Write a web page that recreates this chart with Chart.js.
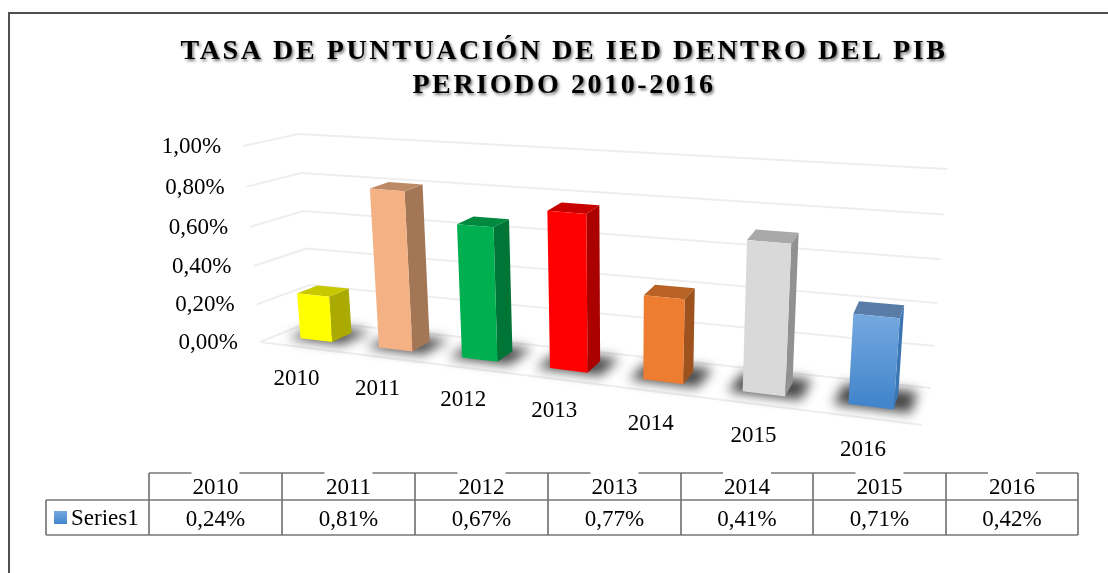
<!DOCTYPE html>
<html><head><meta charset="utf-8">
<style>html,body{margin:0;padding:0;background:#fff}canvas{display:block}</style>
<script src="https://cdn.jsdelivr.net/npm/chart.js@4"></script>
</head><body>
<div style="width:1108px;height:573px"><canvas id="c"></canvas></div>
<script>
const categories = ['2010','2011','2012','2013','2014','2015','2016'];
const seriesName = 'Series1';
const seriesValues = [0.24,0.81,0.67,0.77,0.41,0.71,0.42];
const titleLines = ['TASA DE PUNTUACIÓN DE IED DENTRO DEL PIB','PERIODO 2010-2016'];
const frontColors = ['#FFFF00','#F4B183','#00B050','#FF0000','#ED7D31','#D9D9D9','#5B9BD5'];
const sideColors  = ['#AAAA00','#A37655','#007535','#AA0000','#9E531F','#919191','#3A76B3'];
const topColors   = ['#C8C800','#BC8A66','#008A3F','#C80000','#B86226','#A9A9A9','#5A7DA8'];

const FONT = '"Liberation Serif","Times New Roman",serif';
const pct = v => v.toFixed(2).replace('.',',') + '%';

// Floor plane of the perspective box: u runs along the categories, w from front to back.
const FL=[260,342], FR=[922,425], BR=[931,388], BL=[312,321];
const ALPHA=0.81, VPX=620, VK=1/4200, DEPTH0=0.32, DEPTH1=0.72, BAR_SHIFT=0.003;
function warp(u){ return ALPHA*u/(1+(ALPHA-1)*u); }
function lerp(a,b,t){ return a+(b-a)*t; }
function project(u,w,v){
  const t=warp(u);
  const fx=lerp(FL[0],FR[0],t), fy=lerp(FL[1],FR[1],t);
  const bx=lerp(BL[0],BR[0],t), by=lerp(BL[1],BR[1],t);
  const x=lerp(fx,bx,w), y=lerp(fy,by,w);
  const s=lerp(lerp(196,228,t),lerp(187,219,t),w);
  const h=v*(0.95+0.05*v)*s;
  return [x+(x-VPX)*VK*h, y-h];
}
function poly(ctx,pts,fill){
  ctx.beginPath();
  pts.forEach((p,i)=> i?ctx.lineTo(p[0],p[1]):ctx.moveTo(p[0],p[1]));
  ctx.closePath(); ctx.fillStyle=fill; ctx.fill();
}

const perspective = {
  id:'perspective',
  beforeDraw(chart){
    const ctx=chart.ctx;
    ctx.save();
    ctx.fillStyle='#fff'; ctx.fillRect(0,0,chart.width,chart.height);
    // frame
    ctx.strokeStyle='#505050';
    ctx.lineWidth=2;
    ctx.beginPath(); ctx.moveTo(9,573); ctx.lineTo(9,12); ctx.stroke();
    ctx.lineWidth=1.8;
    ctx.beginPath(); ctx.moveTo(8,13); ctx.lineTo(1108,13); ctx.stroke();
    // native title picks these up
    ctx.letterSpacing='2.6px';
    ctx.shadowColor='rgba(0,0,0,0.55)'; ctx.shadowBlur=3; ctx.shadowOffsetX=1.5; ctx.shadowOffsetY=2;
  },
  beforeDatasetsDraw(chart){ chart.ctx.restore(); },
  beforeDatasetDraw(chart,args){
    const ctx=chart.ctx, a=chart.chartArea, ys=chart.scales.y;
    const H=a.bottom-a.top, W=a.right-a.left;
    const ax=v=>(ys.getPixelForValue(0)-ys.getPixelForValue(v))/H;
    // gridlines
    ctx.save();
    ctx.strokeStyle='#eeeeee'; ctx.lineWidth=2; ctx.lineJoin='round';
    ys.ticks.forEach(tk=>{
      const v=ax(tk.value);
      const p0=project(0,0,v), p1=project(0,1,v), p2=project(1,1,v);
      ctx.beginPath(); ctx.moveTo(p0[0],p0[1]); ctx.lineTo(p1[0],p1[1]); ctx.lineTo(p2[0],p2[1]); ctx.stroke();
    });
    const f0=project(0,0,0), f1=project(1,0,0);
    ctx.beginPath(); ctx.moveTo(f0[0],f0[1]); ctx.lineTo(f1[0],f1[1]); ctx.stroke();
    ctx.restore();

    const els=args.meta.data;
    const geo=els.map(el=>{
      const uc=(el.x-a.left)/W+BAR_SHIFT, du=el.width/2/W;
      return {uc,u0:uc-du,u1:uc+du,du,v:(el.base-el.y)/H};
    });
    // contact shadows
    ctx.save();
    ctx.filter='blur(6px)';
    geo.forEach(g=>{
      poly(ctx,[project(g.u0-g.du*0.65,DEPTH0-0.05,0),project(g.u1+g.du*0.75,DEPTH0-0.05,0),
                project(g.u1+g.du*0.8,DEPTH1+0.14,0),project(g.u0-g.du*0.55,DEPTH1+0.14,0)],'rgba(50,50,50,0.9)');
    });
    ctx.restore();
    // boxes
    geo.forEach((g,i)=>{
      const fbl=project(g.u0,DEPTH0,0), fbr=project(g.u1,DEPTH0,0), bbr=project(g.u1,DEPTH1,0);
      const ftl=project(g.u0,DEPTH0,g.v), ftr=project(g.u1,DEPTH0,g.v);
      const btr=project(g.u1,DEPTH1,g.v), btl=project(g.u0,DEPTH1,g.v);
      let front=frontColors[i];
      if(i===categories.length-1){
        const gr=ctx.createLinearGradient(0,ftl[1],0,fbl[1]);
        gr.addColorStop(0,'#75A9E0'); gr.addColorStop(1,'#4285CB'); front=gr;
      }
      poly(ctx,[fbr,bbr,btr,ftr],sideColors[i]);
      poly(ctx,[ftl,ftr,btr,btl],topColors[i]);
      poly(ctx,[fbl,fbr,ftr,ftl],front);
    });
    // axis labels
    ctx.save();
    ctx.fillStyle='#000'; ctx.font='23px '+FONT; ctx.textBaseline='middle';
    ctx.textAlign='right';
    ys.ticks.forEach(tk=>{
      const p=project(0,0,ax(tk.value));
      ctx.fillText(pct(tk.value),p[0]-22,p[1]+1);
    });
    ctx.textAlign='center';
    geo.forEach((g,i)=>{
      const p=project(g.uc,0,0);
      ctx.fillText(categories[i],p[0]-4,p[1]+32);
    });
    ctx.restore();
    return false;
  },
  afterDraw(chart){
    const ctx=chart.ctx;
    const xs=[149,282,415,548,681,813,946,1078], top=473, mid=500, bot=535, lft=46;
    ctx.save();
    ctx.strokeStyle='#777777'; ctx.lineWidth=1.7;
    ctx.beginPath();
    ctx.moveTo(xs[0],top); ctx.lineTo(xs[7],top);
    ctx.moveTo(lft,mid); ctx.lineTo(xs[7],mid);
    ctx.moveTo(lft,bot); ctx.lineTo(xs[7],bot);
    ctx.moveTo(lft,mid); ctx.lineTo(lft,bot);
    xs.forEach(x=>{ctx.moveTo(x,top); ctx.lineTo(x,bot);});
    ctx.stroke();
    ctx.font='23px '+FONT; ctx.textBaseline='middle'; ctx.textAlign='center';
    categories.forEach((c,i)=>{
      const cx=(xs[i]+xs[i+1])/2;
      ctx.fillStyle='#fff'; ctx.fillRect(cx-24,471.5,48,3);
      ctx.fillStyle='#000';
      ctx.fillText(c,cx,488);
      ctx.fillText(pct(seriesValues[i]),cx,520);
    });
    const gr=ctx.createLinearGradient(0,511,0,524);
    gr.addColorStop(0,'#75A9E0'); gr.addColorStop(1,'#4285CB');
    ctx.fillStyle=gr; ctx.fillRect(54,511,13,13);
    ctx.fillStyle='#000'; ctx.textAlign='left';
    ctx.fillText(seriesName,71,519);
    ctx.restore();
  }
};

new Chart(document.getElementById('c'),{
  type:'bar',
  data:{labels:categories,datasets:[{label:seriesName,data:seriesValues,backgroundColor:frontColors,
    barPercentage:0.41,categoryPercentage:1}]},
  options:{
    responsive:true,maintainAspectRatio:false,animation:false,
    layout:{padding:{left:150,right:130,top:35,bottom:232}},
    scales:{
      x:{display:false},
      y:{display:false,min:0,max:1,ticks:{stepSize:0.2}}
    },
    plugins:{
      legend:{display:false},tooltip:{enabled:false},
      title:{display:true,text:titleLines,color:'#000',
        font:{family:FONT,size:28,weight:'bold',lineHeight:1.21},padding:{top:0,bottom:43}}
    }
  },
  plugins:[perspective]
});
</script>
</body></html>
